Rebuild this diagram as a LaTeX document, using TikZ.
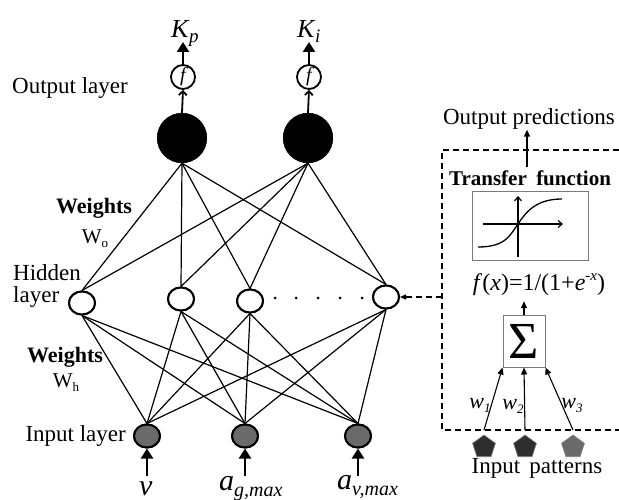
\documentclass[tikz,border=0pt]{standalone}
\usepackage{fontspec}
\setmainfont{Liberation Serif}
\usetikzlibrary{arrows.meta,shapes.geometric}

\newcommand{\fsz}[1]{\fontsize{#1}{#1}\selectfont}
% lowered subscript in a given size
\newcommand{\lowsub}[3]{\raisebox{#1}{\fsz{#2}#3}}

\definecolor{inpgray}{HTML}{6A6A6A}
\definecolor{boxgray}{HTML}{7A7A7A}
\definecolor{pentdark}{HTML}{2E2E2E}

\begin{document}
\begin{tikzpicture}[x=1pt,y=-1pt,
  edge/.style={line width=1.2pt},
  hidnode/.style={ellipse,draw,line width=2pt,fill=white,minimum width=26pt,minimum height=23pt,inner sep=0pt},
  inpnode/.style={hidnode,fill=inpgray},
  outnode/.style={circle,fill=black,minimum size=50pt,inner sep=0pt},
  fnode/.style={circle,draw,line width=1.8pt,minimum size=24pt,inner sep=0pt,font=\fsz{20}\itshape},
  lbl/.style={inner sep=0pt,font=\fsz{23}},
  bigarrow/.style={line width=2.4pt,-{Triangle[length=10pt,width=12pt]}},
  smallarrow/.style={line width=1.3pt,-{Triangle[length=7pt,width=6pt]}},
  dashline/.style={line width=1.3pt,dash pattern=on 6pt off 4pt},
  pent/.style={regular polygon,regular polygon sides=5,minimum size=24pt,inner sep=0pt,draw=gray,line width=0.6pt}
]
\useasboundingbox (0,0) rectangle (619,500);

% ---------- network nodes ----------
\node[outnode] (o1) at (182,138) {};
\node[outnode] (o2) at (308,138) {};
\node[fnode] (f1) at (183,77) {f};
\node[fnode] (f2) at (309,77) {f};
\node[inner sep=0pt,anchor=base west] (kp) at (171,38) {\fsz{26}\itshape K\kern0.5pt\lowsub{-5pt}{19}{p}};
\node[inner sep=0pt,anchor=base west] (ki) at (297,38) {\fsz{26}\itshape K\kern0.5pt\lowsub{-5pt}{19}{i}};

\node[hidnode] (h1) at (82,303) {};
\node[hidnode] (h2) at (181,299) {};
\node[hidnode] (h3) at (250,301) {};
\node[hidnode] (h4) at (386,297) {};

\node[inpnode] (i1) at (147,436) {};
\node[inpnode] (i2) at (245,436) {};
\node[inpnode] (i3) at (358,436) {};

% ---------- connections ----------
\foreach \o in {o1,o2}
  \foreach \h in {h1,h2,h3,h4}
    \draw[edge] (\o.south) -- (\h.north);
\foreach \h in {h1,h2,h3,h4}
  \foreach \i in {i1,i2,i3}
    \draw[edge] (\h.south) -- (\i.north);

% redraw nodes above the lines
\node[outnode] at (o1) {};
\node[outnode] at (o2) {};
\node[hidnode] at (h1) {};
\node[hidnode] at (h2) {};
\node[hidnode] at (h3) {};
\node[hidnode] at (h4) {};
\node[inpnode] at (i1) {};
\node[inpnode] at (i2) {};
\node[inpnode] at (i3) {};

% output arrows
\draw[line width=1.8pt,-{Straight Barb[length=4pt,width=8pt]}] (o1.north) -- (f1.south);
\draw[line width=1.8pt,-{Straight Barb[length=4pt,width=8pt]}] (o2.north) -- (f2.south);
\draw[bigarrow] (f1.north) -- (f1.north |- 0,42);
\draw[bigarrow] (f2.north) -- (f2.north |- 0,42);

% dots between hidden nodes
\foreach \x/\n in {275/d1,296/d2,318/d3,340/d4,362/d5}
  \fill (\x,298) circle (1.5pt);

% input labels and arrows
\node[inner sep=0pt,anchor=base west] (vl) at (139,495) {\fsz{30}\itshape v};
\node[inner sep=0pt,anchor=base west] (ag) at (219,490) {\fsz{30}\itshape a\lowsub{-6pt}{20}{g,max}};
\node[inner sep=0pt,anchor=base west] (av) at (337,489) {\fsz{30}\itshape a\lowsub{-6pt}{20}{v,max}};
\coordinate (vin) at (147,476);
\coordinate (agin) at (245,476);
\coordinate (avin) at (358,476);
\draw[bigarrow] (vin) -- (i1.south);
\draw[bigarrow] (agin) -- (i2.south);
\draw[bigarrow] (avin) -- (i3.south);

% layer labels
\node[lbl,anchor=west] (outl) at (12,88) {Output layer};
\node[lbl,anchor=west] (hidl) at (13,273) {Hidden};
\node[lbl,anchor=west] (hidl2) at (13,297) {layer};
\node[lbl,anchor=east] (inl) at (126,436) {Input layer};
\node[lbl,font=\fsz{22}\bfseries] (wo) at (94,208) {Weights};
\node[lbl,font=\fsz{21}] (wol) at (95,239) {W\lowsub{-4pt}{13}{o}};
\node[lbl,font=\fsz{22}\bfseries] (wh) at (65,357) {Weights};
\node[lbl,font=\fsz{21}] (whl) at (66,383) {W\lowsub{-4pt}{13}{h}};

% ---------- transfer function panel ----------
\coordinate (bTL) at (442,150);
\coordinate (bTR) at (619,150);
\coordinate (bBL) at (442,430);
\coordinate (bBR) at (619,430);
\draw[dashline] (bTR) -- (bTL) -- (bBL) -- (bBR);
\draw[dashline,-{Triangle[length=6pt,width=5pt]}] (bBL |- h4) -- (h4.east);

\node[lbl] (outpred) at (529,119) {Output predictions};
\node[lbl,font=\fsz{21}\bfseries] (tf) at (530,178) {Transfer\hspace{0.45em}function};
\coordinate (tftop) at (527,167);
\draw[smallarrow] (tftop) -- (tftop |- outpred.south);

\node[draw=boxgray,line width=1pt,minimum width=116pt,minimum height=68pt,inner sep=0pt] (tfbox) at (530,226) {};
\coordinate (vax0) at (518,257);
\coordinate (vax1) at (518,196);
\coordinate (hax0) at (483,224);
\coordinate (hax1) at (563,224);
\draw[line width=1.2pt,-{Straight Barb[length=4pt,width=7pt]}] (vax0) -- (vax1);
\draw[line width=1.2pt,-{Straight Barb[length=4pt,width=7pt]}] (hax0) -- (hax1);
\draw[line width=1.3pt] (478,247) .. controls (506,247) and (510,235) .. (518,224)
  .. controls (526,212) and (536,199) .. (562,199);

\node[lbl,font=\fsz{24},inner ysep=5pt] (fx) at (539,285) {\textit{f}(\textit{x})=1/(1+\textit{e}\raisebox{10pt}{\fsz{15}-\textit{x}})};

\node[draw=boxgray,line width=1pt,minimum width=42pt,minimum height=52pt,inner sep=0pt,font=\fsz{52}] (sig) at (524,341) {Σ};
\draw[smallarrow] (sig.north) -- (sig.north |- fx.south);

% input patterns
\node[pent,fill=pentdark] (p1) at (484,447) {};
\node[pent,fill=pentdark] (p2) at (525,447) {};
\node[pent,fill=inpgray] (p3) at (573,447) {};
\draw[smallarrow,line width=1.1pt] (p1.north |- bBL) -- (sig.south west);
\draw[smallarrow,line width=1.1pt] (p2.north |- bBL) -- (sig.south);
\draw[smallarrow,line width=1.1pt] (p3.north |- bBL) -- (sig.south east);
\node[lbl,font=\fsz{22}\itshape,anchor=base] (w1) at (480,408) {w\lowsub{-4pt}{13}{1}};
\node[lbl,font=\fsz{22}\itshape,anchor=base] (w2) at (513,409) {w\lowsub{-4pt}{13}{2}};
\node[lbl,font=\fsz{22}\itshape,anchor=base] (w3) at (572,408) {w\lowsub{-4pt}{13}{3}};
\node[lbl] (inpat) at (537,468) {Input\hspace{0.4em}patterns};
\end{tikzpicture}
\end{document}
